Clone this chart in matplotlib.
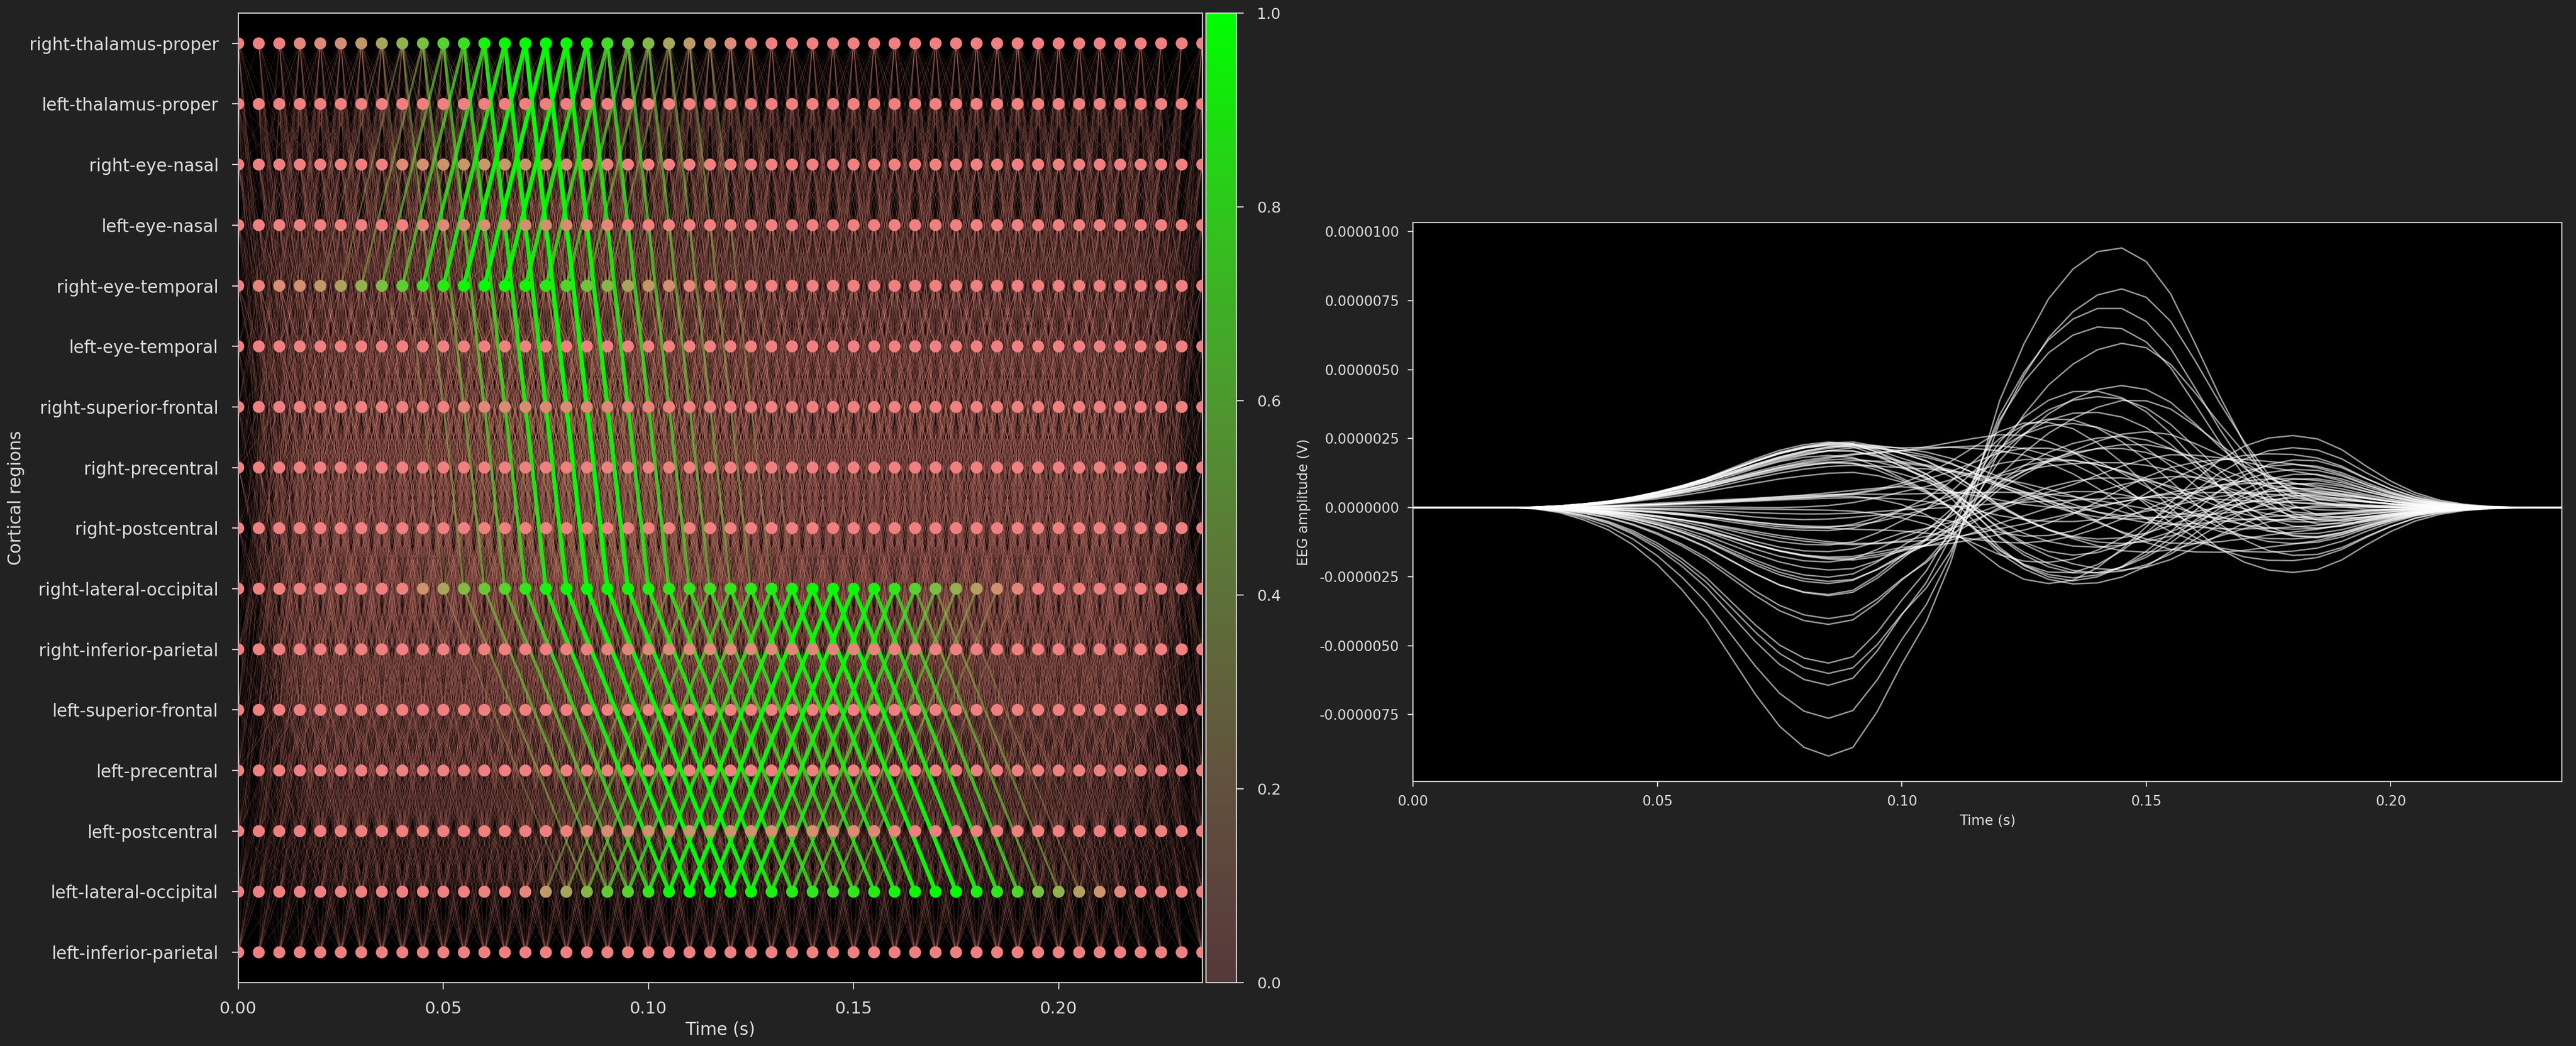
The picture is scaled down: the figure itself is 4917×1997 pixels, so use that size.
import numpy as np
import matplotlib
matplotlib.use("Agg")
import matplotlib.pyplot as plt
from matplotlib.collections import LineCollection
from matplotlib.colors import LinearSegmentedColormap, Normalize
from matplotlib.ticker import FormatStrFormatter, MultipleLocator

# -------------------------------
# Data
# -------------------------------
regions = [
    "right-thalamus-proper", "left-thalamus-proper", "right-eye-nasal",
    "left-eye-nasal", "right-eye-temporal", "left-eye-temporal",
    "right-superior-frontal", "right-precentral", "right-postcentral",
    "right-lateral-occipital", "right-inferior-parietal", "left-superior-frontal",
    "left-precentral", "left-postcentral", "left-lateral-occipital",
    "left-inferior-parietal",
]
n_times = 48
dt = 0.005
times = np.arange(n_times) * dt

act_right_thalamus = [0, 0, 0, 0.05, 0.08, 0.12, 0.2, 0.3, 0.4, 0.5, 0.65, 0.75,
                      0.9, 0.95, 1.0, 1.0, 0.95, 0.85, 0.72, 0.58, 0.45, 0.32, 0.22, 0.15,
                      0.08, 0.04] + [0] * 22
act_right_eye_nasal = [0] * 8 + [0.08, 0.12, 0.15, 0.17, 0.18, 0.18, 0.17, 0.15,
                                 0.12, 0.08, 0.04] + [0] * 29
act_left_eye_nasal = [0] * 9 + [0.04, 0.08, 0.11, 0.13, 0.14, 0.14, 0.13, 0.11,
                                0.08, 0.05, 0.02] + [0] * 28
act_right_eye_temporal = [0, 0.02, 0.08, 0.12, 0.2, 0.28, 0.38, 0.5, 0.62, 0.75, 0.85,
                          0.95, 1.0, 1.0, 0.95, 0.85, 0.7, 0.55, 0.45, 0.3, 0.2, 0.12,
                          0.05, 0.02] + [0] * 24
act_right_sup_frontal = [0] * 11 + [0.04, 0.07, 0.09, 0.1, 0.1, 0.1, 0.09, 0.07,
                                    0.05, 0.03] + [0] * 27
act_right_lat_occipital = [0] * 9 + [0.15, 0.3, 0.45, 0.55, 0.65, 0.8, 0.9, 0.95, 1.0,
                                     1.0, 0.95, 0.9, 0.85, 0.78, 0.75, 0.78, 0.82, 0.86,
                                     0.9, 0.95, 0.95, 0.95, 0.9, 0.8, 0.65, 0.5, 0.4,
                                     0.25, 0.15, 0.05] + [0] * 9
act_right_inf_parietal = [0] * 18 + [0.04, 0.06, 0.08, 0.08, 0.08, 0.08, 0.08, 0.08,
                                     0.08, 0.07, 0.07, 0.06, 0.05, 0.04, 0.03,
                                     0.02] + [0] * 14
act_left_postcentral = [0] * 17 + [0.04, 0.08, 0.1, 0.13, 0.15, 0.16, 0.16, 0.15,
                                   0.14, 0.13, 0.12, 0.11, 0.1, 0.08, 0.06,
                                   0.04] + [0] * 15
act_left_lat_occipital = [0] * 14 + [0.05, 0.2, 0.3, 0.45, 0.6, 0.65, 0.8, 0.95, 1.0,
                                     1.0, 1.0, 0.95, 0.9, 0.85, 0.8, 0.75, 0.8, 0.85,
                                     0.9, 0.95, 1.0, 1.0, 0.9, 0.8, 0.7, 0.5, 0.4,
                                     0.25, 0.15, 0.05] + [0] * 4

activity = {
    "right-thalamus-proper": act_right_thalamus,
    "right-eye-nasal": act_right_eye_nasal,
    "left-eye-nasal": act_left_eye_nasal,
    "right-eye-temporal": act_right_eye_temporal,
    "right-superior-frontal": act_right_sup_frontal,
    "right-lateral-occipital": act_right_lat_occipital,
    "right-inferior-parietal": act_right_inf_parietal,
    "left-postcentral": act_left_postcentral,
    "left-lateral-occipital": act_left_lat_occipital,
}

# conduction delays between regions, in time steps (row = source, col = target)
delay_rows = [
    "0133343223233343",
    "1033433334332232",
    "3302132346524465",
    "3320312446523465",
    "3413032346534566",
    "4331303456623465",
    "3322230235423465",
    "2334342014234455",
    "2344453103244454",
    "3466665430265565",
    "2355564222054454",
    "3322322346502354",
    "3243433445420142",
    "3244544445431032",
    "4366666556554302",
    "3255655545442220",
]

# pathways carrying the evoked activity
pathways = [
    ("right-eye-temporal", "right-thalamus-proper"),
    ("right-thalamus-proper", "right-lateral-occipital"),
    ("right-lateral-occipital", "left-lateral-occipital"),
    ("left-lateral-occipital", "right-lateral-occipital"),
]

# EEG: source waveforms (uV per unit gain) and channel gains
src_a = [0, 0, 0, 0, 0, -0.005, -0.02, -0.05, -0.09, -0.15, -0.23, -0.33, -0.45, -0.6,
         -0.75, -0.88, -0.965, -1.0, -0.965, -0.82, -0.63, -0.46, -0.22, 0.1, 0.43,
         0.66, 0.84, 0.96, 1.03, 1.045, 0.99, 0.86, 0.66, 0.45, 0.26, 0.1, 0.01, -0.03,
         -0.04, -0.04, -0.03, -0.02, -0.01, -0.005, 0, 0, 0, 0]
src_b = [0] * 14 + [-0.005, -0.005, -0.01, -0.01, -0.02, -0.06, -0.13, -0.25, -0.42,
                    -0.63, -0.84, -0.97, -1.0, -0.94, -0.77, -0.53, -0.25, 0.05, 0.33,
                    0.57, 0.74, 0.84, 0.87, 0.83, 0.7, 0.5, 0.32, 0.18, 0.09, 0.04,
                    0.015, 0.005, 0, 0]
src_c = [0] * 5 + [0.01, 0.03, 0.06, 0.1, 0.16, 0.23, 0.31, 0.4, 0.5, 0.6, 0.7, 0.79,
                   0.87, 0.94, 0.98, 1.0, 0.98, 0.93, 0.85, 0.75, 0.63, 0.5, 0.38, 0.27,
                   0.18, 0.11, 0.06, 0.03, 0.01] + [0] * 14

gain_a = [9.0, 7.8, 6.7, 6.0, 5.9, 4.4, 4.1, 3.5, 3.0, 2.7, 2.4, 2.1, 1.8, 1.5, 1.2,
          1.0, 0.8, 0.5, 0.3, 0.0, 0.1, -2.0, -1.8, -1.6, -1.5, -1.3, -1.2, -1.0, -0.9,
          -0.8, -0.7, -0.6, -0.5, -0.4, -0.3, -2.2, -1.9, -1.7, 0.6, 1.0, 0.3, 1.3, 2.0,
          0.2, 0.0, -0.2, 0.4, -0.1, 0.7, 1.6, -1.1, -0.7, 2.5, 3.2, -1.4, -0.5]
gain_b = [0.0, 0.5, -0.3, 0.6, -0.5, 0.4, 0.8, -0.4, 1.0, -0.8, 0.6, 1.5, -1.2, 0.2,
          -2.0, 2.2, -0.6, 1.0, -1.5, 3.0, -2.7, 0.5, -0.4, 1.2, -1.0, 0.3, 2.0, -1.8,
          0.8, -0.3, 1.6, -2.2, 0.4, 2.5, -1.3, 0.0, 1.0, -1.5, 0.5, -0.4, 1.2, 0.8,
          -0.2, -0.9, 0.7, -0.5, 0.2, 1.8, -1.1, 1.8, 0.6, -0.8, 0.0, -1.2, 1.4, 0.0]
gain_c = [0.0, 0.2, 0.3, 0.0, 0.3, 0.2, 0.1, 0.4, 0.3, 0.2, 0.5, 0.6, 0.5, 0.9, 0.4,
          0.7, 1.0, 1.2, 0.8, 0.5, 0.6, 0.3, 0.6, 0.8, 0.9, 1.2, 1.0, 1.3, 1.5, 1.6,
          1.2, 1.4, 1.8, 1.0, 1.7, 0.2, 0.0, 0.4, -0.8, -1.0, -0.5, -0.6, -0.3, -1.2,
          0.4, 0.3, 0.2, -0.2, 0.0, -0.2, 0.6, 0.9, -0.2, 0.0, 0.3, 1.3]

# -------------------------------
# Build graph arrays
# -------------------------------
n_reg = len(regions)
idx = {name: i for i, name in enumerate(regions)}
ypos = np.array([n_reg - 1 - i for i in range(n_reg)])

act = np.zeros((n_reg, n_times))
for name, vals in activity.items():
    act[idx[name]] = vals

delay = np.array([[int(c) for c in row] for row in delay_rows])
strong = {(idx[a], idx[b]) for a, b in pathways}

segs, weights = [], []
for i in range(n_reg):
    for j in range(n_reg):
        if i == j:
            continue
        d = delay[i, j]
        for k in range(n_times - d):
            w = np.sqrt(act[i, k] * act[j, k + d])
            if (i, j) not in strong:
                w = 0.05 + 0.2 * w
            segs.append([(times[k], ypos[i]), (times[k + d], ypos[j])])
            weights.append(w)
weights = np.array(weights)
order = np.argsort(weights)
segs = [segs[o] for o in order]
weights = weights[order]

eeg = (np.outer(gain_a, src_a) + np.outer(gain_b, src_b) + np.outer(gain_c, src_c)) * 1e-6

# -------------------------------
# Style
# -------------------------------
bg = "#222222"
fg = "#dddddd"
edge_cmap = LinearSegmentedColormap.from_list(
    "edges", [(240 / 255, 128 / 255, 128 / 255, 0.25), (0, 1, 0, 1)])
node_cmap = LinearSegmentedColormap.from_list("nodes", ["lightcoral", "lime"])

fig = plt.figure(figsize=(24.585, 9.985), dpi=200, facecolor=bg)
ax = fig.add_axes([0.0925, 0.0606, 0.3742, 0.9269])
cax = fig.add_axes([0.4682, 0.0606, 0.0118, 0.9269])
ax2 = fig.add_axes([0.5485, 0.2529, 0.4460, 0.5343])

for a in (ax, ax2):
    a.set_facecolor("black")
    for s in a.spines.values():
        s.set_color(fg)
        s.set_linewidth(0.8)
    a.tick_params(colors=fg, labelcolor=fg, width=0.8)

# -------------------------------
# Left: region graph over time
# -------------------------------
edge_rgba = edge_cmap(weights)
edge_rgba[:, 3] *= np.clip(0.55 + weights, 0, 1)   # background mesh stays dim
lc = LineCollection(segs, colors=edge_rgba, linewidths=0.3 + 2.6 * weights, zorder=1)
ax.add_collection(lc)

tt, yy = np.meshgrid(times, ypos)
ax.scatter(tt.ravel(), yy.ravel(), c=act.ravel(), cmap=node_cmap, vmin=0, vmax=1,
           s=68, linewidths=0, zorder=3)

ax.set_xlim(0, 0.235)
ax.set_ylim(-0.5, n_reg - 0.5)
ax.set_yticks(ypos)
ax.set_yticklabels(regions, fontsize=11.8)
ax.set_xticks([0, 0.05, 0.1, 0.15, 0.2])
ax.xaxis.set_major_formatter(FormatStrFormatter("%.2f"))
ax.tick_params(axis="x", labelsize=11.5, length=4.5, pad=8)
ax.tick_params(axis="y", length=4.5, pad=9)
ax.set_xlabel("Time (s)", color=fg, fontsize=11.8, labelpad=3)
ax.set_ylabel("Cortical regions", color=fg, fontsize=11.8, labelpad=3)

sm = plt.cm.ScalarMappable(cmap=edge_cmap, norm=Normalize(0, 1))
cb = fig.colorbar(sm, cax=cax)
cax.set_facecolor(bg)
cb.outline.set_edgecolor(fg)
cb.set_ticks([0, 0.2, 0.4, 0.6, 0.8, 1.0])
cax.tick_params(colors=fg, labelcolor=fg, labelsize=10.5, width=0.8, length=5, pad=9)

# -------------------------------
# Right: simulated EEG
# -------------------------------
ax2.plot(times, eeg.T, color="white", alpha=0.6, linewidth=1.0)
ax2.set_xlim(0, 0.235)
ax2.set_xticks([0, 0.05, 0.1, 0.15, 0.2])
ax2.xaxis.set_major_formatter(FormatStrFormatter("%.2f"))
ax2.yaxis.set_major_locator(MultipleLocator(2.5e-6))
ax2.yaxis.set_major_formatter(FormatStrFormatter("%.7f"))
ax2.tick_params(labelsize=9.5, pad=6)
ax2.set_xlabel("Time (s)", color=fg, fontsize=9.5)
ax2.set_ylabel("EEG amplitude (V)", color=fg, fontsize=9.5, labelpad=6)

fig.savefig("out.png", dpi=200, facecolor=bg)
